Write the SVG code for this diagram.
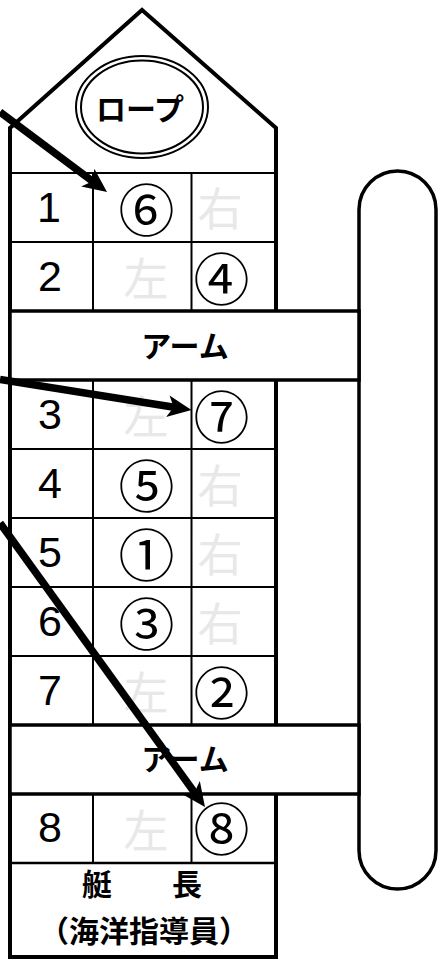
<svg xmlns="http://www.w3.org/2000/svg" width="441" height="959" viewBox="0 0 441 959">
<style>
.thick{fill:none;stroke:#000;stroke-width:3.5}
.box{fill:#fff;stroke:#000;stroke-width:3.5}
.thin{fill:none;stroke:#000;stroke-width:2}
.num{font-family:"Liberation Sans",Arial,sans-serif;font-size:43px;text-anchor:middle;fill:#000}
.circ{font-family:"Noto Sans CJK JP",sans-serif;font-size:56px;text-anchor:middle;dominant-baseline:central;fill:#000}
.ghost{font-family:"Noto Sans CJK JP",sans-serif;font-size:45px;text-anchor:middle;dominant-baseline:central;fill:#e8e8e8}
.lbl{font-family:"Noto Sans CJK JP",sans-serif;font-size:30px;font-weight:bold;text-anchor:middle;dominant-baseline:central;fill:#000}
.arr{fill:none;stroke:#000;stroke-width:7.5}
</style>
<defs>
<marker id="ah" markerUnits="userSpaceOnUse" markerWidth="24" markerHeight="22" refX="8" refY="11" orient="auto" viewBox="0 0 24 22">
<path d="M0,0 L24,11 L0,22 L6,11 z" fill="#000"/>
</marker>
</defs>
<g id="rail"><rect x="359" y="171" width="77" height="718" rx="38.5" ry="38.5" class="thick"/></g>
<g id="boat">
<polygon points="10,128 142,10 276,128 276,957 10,957" fill="#fff" stroke="#000" stroke-width="4" stroke-linejoin="miter"/>
<line x1="10" y1="173" x2="276" y2="173" class="thin" stroke-width="2.5"/>
</g>
<g id="rope">
<ellipse cx="142" cy="107" rx="66" ry="51" class="thin"/>
<ellipse cx="142" cy="107" rx="61" ry="46.5" class="thin"/>
<text x="140" y="107" class="lbl" font-size="31">ロープ</text>
</g>
<g id="grid" class="thin">
<line x1="93" y1="173" x2="93" y2="311"/>
<line x1="191.5" y1="173" x2="191.5" y2="311"/>
<line x1="10" y1="242" x2="276" y2="242"/>
<line x1="93" y1="380" x2="93" y2="725"/>
<line x1="191.5" y1="380" x2="191.5" y2="725"/>
<line x1="10" y1="449" x2="276" y2="449"/>
<line x1="10" y1="518" x2="276" y2="518"/>
<line x1="10" y1="587" x2="276" y2="587"/>
<line x1="10" y1="656" x2="276" y2="656"/>
<line x1="93" y1="794" x2="93" y2="863"/>
<line x1="191.5" y1="794" x2="191.5" y2="863"/>
<line x1="10" y1="863" x2="276" y2="863" stroke-width="2.5"/>
</g>
<g id="arm1"><rect x="10" y="311" width="349" height="69" class="box"/><text x="185" y="344" class="lbl" font-size="31">アーム</text></g>
<g id="arm2"><rect x="10" y="725" width="349" height="69" class="box"/><text x="185" y="757" class="lbl" font-size="31">アーム</text></g>
<g id="row1"><text x="49" y="222" class="num">1</text><text x="146.5" y="206.5" class="circ">⑥</text><text x="220" y="206" class="ghost">右</text></g>
<g id="row2"><text x="50" y="291" class="num">2</text><text x="146" y="276" class="ghost">左</text><text x="221.5" y="275.5" class="circ">④</text></g>
<g id="row3"><text x="50" y="429" class="num">3</text><text x="146" y="414" class="ghost">左</text><text x="221.5" y="413.5" class="circ">⑦</text></g>
<g id="row4"><text x="50" y="498" class="num">4</text><text x="146.5" y="482.5" class="circ">⑤</text><text x="220" y="483" class="ghost">右</text></g>
<g id="row5"><text x="50" y="567" class="num">5</text><text x="146.5" y="551.5" class="circ">①</text><text x="220" y="552" class="ghost">右</text></g>
<g id="row6"><text x="50" y="636" class="num">6</text><text x="146.5" y="620.5" class="circ">③</text><text x="220" y="621" class="ghost">右</text></g>
<g id="row7"><text x="50" y="705" class="num">7</text><text x="146" y="690" class="ghost">左</text><text x="221.5" y="689.5" class="circ">②</text></g>
<g id="row8"><text x="50" y="842" class="num">8</text><text x="146" y="828" class="ghost">左</text><text x="221.5" y="825.5" class="circ">⑧</text></g>
<g id="captain">
<text x="142" y="882" class="lbl" font-size="29">艇　　長</text>
<text x="144" y="929" class="lbl" font-size="27">（海洋指導員）</text>
</g>
<g id="connectors">
<line x1="0" y1="112" x2="94.2" y2="182.4" class="arr" marker-end="url(#ah)"/>
<line x1="0" y1="379.5" x2="175.7" y2="407.5" class="arr" marker-end="url(#ah)"/>
<line x1="0" y1="523" x2="195.6" y2="794" class="arr" marker-end="url(#ah)"/>
</g>
</svg>
